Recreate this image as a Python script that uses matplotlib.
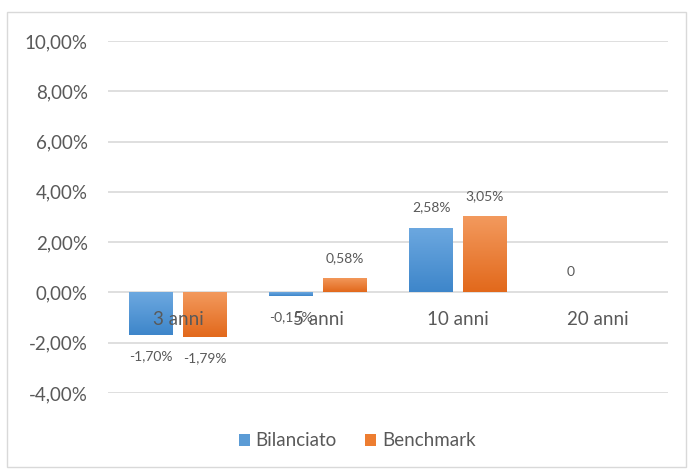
import numpy as np
import matplotlib
matplotlib.use("Agg")
import matplotlib.pyplot as plt
from matplotlib.patches import Rectangle
from matplotlib.colors import LinearSegmentedColormap

categories = ["3 anni", "5 anni", "10 anni", "20 anni"]
bilanciato = [-1.70, -0.15, 2.58, 0.0]
benchmark = [-1.79, 0.58, 3.05, np.nan]
bil_labels = ["-1,70%", "-0,15%", "2,58%", "0"]
ben_labels = ["-1,79%", "0,58%", "3,05%", ""]
yticks = [-4, -2, 0, 2, 4, 6, 8, 10]
ytick_labels = ["-4,00%", "-2,00%", "0,00%", "2,00%", "4,00%", "6,00%", "8,00%", "10,00%"]

plt.rcParams['font.family'] = ['Lato', 'DejaVu Sans']
TXT = '#595959'

fig = plt.figure(figsize=(6.93, 4.72), dpi=100)
fig.patches.append(Rectangle((7/693, 1-467/472), 679/693, 455/472, transform=fig.transFigure,
                             fill=False, edgecolor='#D9D9D9', linewidth=1))
ax = fig.add_axes([108/693, 79/472, 560/693, 352/472])

x = np.arange(len(categories))
w = 0.314
off = 0.192
b1 = ax.bar(x - off, bilanciato, w, color='#5B9BD5', label='Bilanciato', zorder=3)
b2 = ax.bar(x + off, benchmark, w, color='#ED7D31', label='Benchmark', zorder=3)

ax.set_xlim(-0.5, len(categories) - 0.5)
ax.set_ylim(-4, 10)

# gradient fill
def grad(bars, top, bottom):
    cmap = LinearSegmentedColormap.from_list('g', [bottom, top])
    g = np.linspace(0, 1, 64).reshape(-1, 1)
    for b in bars:
        h = b.get_height()
        if not np.isfinite(h) or h == 0:
            continue
        x0 = b.get_x(); y0 = min(b.get_y(), b.get_y() + h); y1 = max(b.get_y(), b.get_y() + h)
        im = ax.imshow(g, cmap=cmap, extent=[x0, x0 + b.get_width(), y0, y1],
                       origin='lower', aspect='auto', zorder=3.5, interpolation='bilinear')
        im.set_clip_path(b)

grad(b1, '#6CA8E0', '#3E86CA')
grad(b2, '#F39A5E', '#E2691C')
ax.set_xlim(-0.5, len(categories) - 0.5)
ax.set_ylim(-4, 10)

for xi, v, lab in zip(x - off, bilanciato, bil_labels):
    if np.isfinite(v) and lab:
        dy = 20 if v >= 0 else -21
        ax.annotate(lab, (xi, v), xytext=(0, dy * 0.72), textcoords='offset points',
                    ha='center', va='center', fontsize=10, color=TXT)
for xi, v, lab in zip(x + off, benchmark, ben_labels):
    if np.isfinite(v) and lab:
        dy = 20 if v >= 0 else -21
        ax.annotate(lab, (xi, v), xytext=(0, dy * 0.72), textcoords='offset points',
                    ha='center', va='center', fontsize=10, color=TXT)

for xi, c in zip(x, categories):
    ax.annotate(c, (xi, 0), xytext=(0, -27 * 0.72), textcoords='offset points',
                ha='center', va='center', fontsize=13.5, color=TXT, zorder=5)

ax.set_xticks([])
ax.set_yticks(yticks)
ax.set_yticklabels(ytick_labels, fontsize=13.5, color=TXT)
ax.tick_params(axis='y', length=0, pad=14.5)
ax.grid(axis='y', color='#D9D9D9', linewidth=1.2, zorder=0)
for s in ax.spines.values():
    s.set_visible(False)

fig.legend(handles=[b1, b2], labels=['Bilanciato', 'Benchmark'], loc='center',
           bbox_to_anchor=(357/693, 1 - 441/472), ncol=2, frameon=False, fontsize=13.5,
           handlelength=0.6, handleheight=0.6, handletextpad=0.3, columnspacing=1.5,
           labelcolor=TXT)

fig.savefig('out.png', dpi=100)
